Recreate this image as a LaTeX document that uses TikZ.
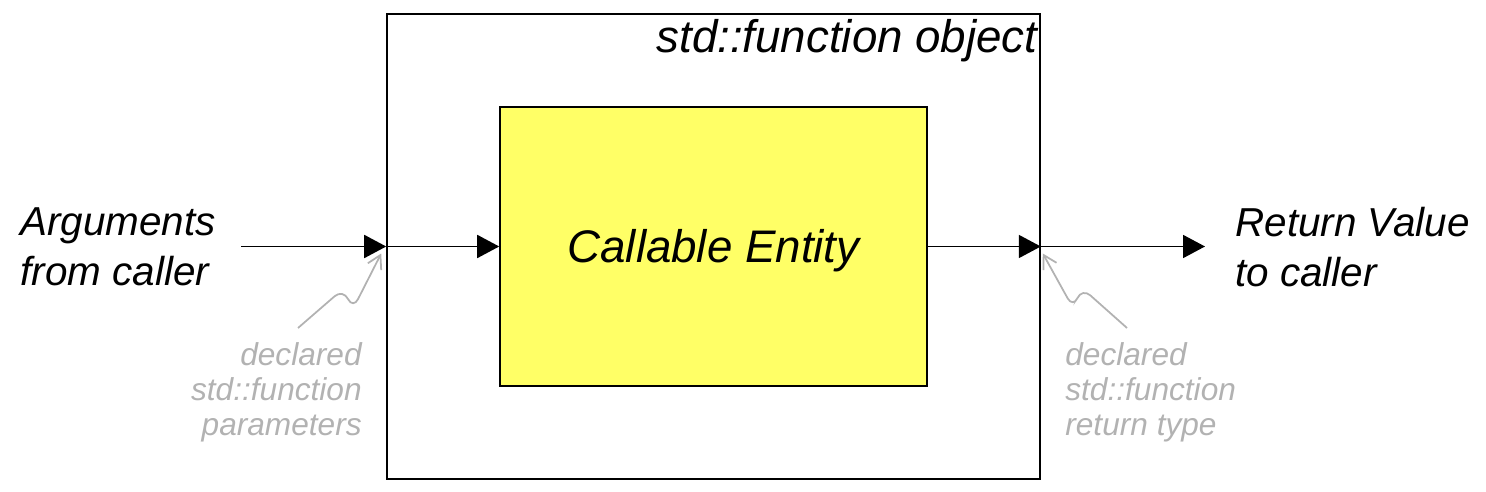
\documentclass[tikz,border=0pt]{standalone}
\usepackage{fontspec}
\setmainfont{Liberation Sans}
\definecolor{fnyellow}{RGB}{255,255,102}
\definecolor{fngray}{RGB}{178,178,178}
\usepackage{tikz}
\usetikzlibrary{arrows.meta,positioning}

\begin{document}
\begin{tikzpicture}[x=0.2mm, y=-0.2mm,
    flow/.style={-{Triangle[length=4.4mm,width=4.6mm]}, line width=1.05pt, black},
    hint/.style={-{Straight Barb[length=2.6mm,width=3mm]}, line width=1pt, fngray, rounded corners=2.2mm},
    sidetext/.style={inner sep=0pt, align=left, font=\fontsize{23}{28.5}\selectfont\itshape},
    notetext/.style={inner sep=0pt, text=fngray, font=\fontsize{18}{20}\selectfont\itshape}]
  \useasboundingbox (0,0) rectangle (1486,492);
  \node[draw, line width=0.9pt, minimum width=130.6mm, minimum height=93mm] (wrapper) at (713.5,246.5) {};
  \node[draw, line width=0.9pt, fill=fnyellow, minimum width=85.4mm, minimum height=55.8mm,
        text depth=0.05em, font=\fontsize{26}{30}\selectfont\itshape] (entity) at (wrapper.center) {Callable Entity};
  \node[anchor=north east, inner sep=0pt, font=\fontsize{26}{30}\selectfont\itshape]
    (title) at ([shift={(-3,6)}]wrapper.north east) {std::function object};
  \node[sidetext, anchor=west] (args) at (20,247) {Arguments\\from caller};
  \node[sidetext, anchor=west] (retval) at (1235,247) {Return Value\\to caller};
  \node[notetext, anchor=north east, align=right] (params) at (362,342) {declared\\std::function\\parameters};
  \node[notetext, anchor=north west, align=left] (rettype) at (1065,342) {declared\\std::function\\return type};
  \draw[flow] ([xshift=5mm]args.east |- wrapper.west) -- (wrapper.west);
  \draw[flow] (wrapper.west) -- (entity.west);
  \draw[flow] (entity.east) -- (wrapper.east);
  \draw[flow] (wrapper.east) -- ([xshift=-6mm]retval.west |- wrapper.east);
  \draw[hint] ([shift={(-64,-14)}]params.north east) -- ++(45,-39) -- ++(10,20)
    -- ([shift={(-5,7)}]wrapper.west);
  \draw[hint] ([shift={(62,-14)}]rettype.north west) -- ++(-45,-40) -- ++(-9,20)
    -- ([shift={(2,7)}]wrapper.east);
\end{tikzpicture}
\end{document}
